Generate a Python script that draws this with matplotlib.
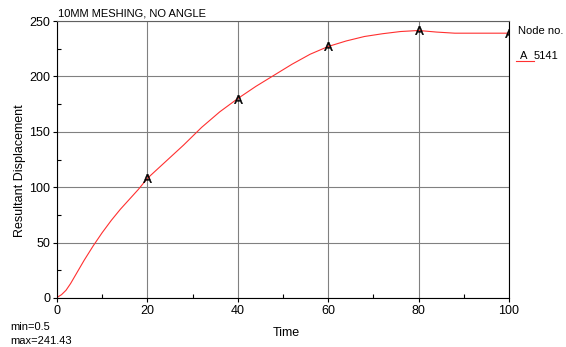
import matplotlib
matplotlib.use('Agg')
import matplotlib.pyplot as plt
from matplotlib.ticker import MultipleLocator

# displacement history
time = [0, 1, 2, 3, 4, 6, 8, 10, 12, 14, 16, 18, 20, 24, 28, 32, 36, 40, 44, 48, 52,
        56, 60, 64, 68, 72, 76, 80, 84, 88, 92, 96, 100]
disp = [0.5, 3, 7, 13, 20, 34, 47, 59, 70, 80, 89, 98, 108, 123, 138, 154, 168, 180,
        191, 201, 211, 220, 227, 232, 236, 238.5, 240.5, 241.43, 240, 239, 239, 239, 239]
mark_times = [20, 40, 60, 80, 100]
node = '5141'
title = '10MM MESHING, NO ANGLE'
stats = ['min=0.5', 'max=241.43']

plt.rcParams['font.family'] = ['Liberation Sans', 'DejaVu Sans']
plt.rcParams['mathtext.default'] = 'regular'

fig = plt.figure(figsize=(5.66, 3.47), dpi=100)
ax = fig.add_axes([57/566, 49/347, 452/566, 277/347])

ax.plot(time, disp, color='#ff3030', lw=0.8)
mark_idx = [time.index(t) for t in mark_times]
ax.plot([time[i] for i in mark_idx], [disp[i] for i in mark_idx], ls='none',
        marker='$A$', ms=6, color='black', mew=0.4)

ax.set_xlim(0, 100)
ax.set_ylim(0, 250)
ax.xaxis.set_major_locator(MultipleLocator(20))
ax.xaxis.set_minor_locator(MultipleLocator(10))
ax.yaxis.set_major_locator(MultipleLocator(50))
ax.yaxis.set_minor_locator(MultipleLocator(25))
ax.tick_params(which='major', direction='out', length=3, width=0.8, labelsize=9, pad=2)
ax.tick_params(which='minor', direction='in', length=3, width=0.8)
ax.grid(which='major', color='#808080', lw=0.8)
for s in ax.spines.values():
    s.set_color('black')
    s.set_linewidth(0.8)
ax.spines['top'].set_color('#606060')

ax.set_xlabel('Time', fontsize=9)
ax.set_ylabel('Resultant Displacement', fontsize=9)
ax.xaxis.set_label_coords(0.508, -29/277)
ax.yaxis.set_label_coords(-31/452, 0.46)
fig.text(58/566, 1 - 13/347, title, fontsize=8, va='center', ha='left')
fig.text(10/566, 1 - 327/347, stats[0], fontsize=8, va='center', ha='left')
fig.text(10/566, 1 - 341/347, stats[1], fontsize=8, va='center', ha='left')

# legend block at the right
fig.text(518/566, 1 - 31/347, 'Node no.', fontsize=8, va='center', ha='left')
fig.text(520/566, 1 - 56/347, 'A', fontsize=8, va='center', ha='left')
fig.text(534/566, 1 - 56/347, node, fontsize=8, va='center', ha='left')
fig.add_artist(plt.Line2D([516/566, 534/566], [1 - 61/347, 1 - 61/347], color='#ff3030', lw=0.8))

fig.savefig('out.png', dpi=100)
